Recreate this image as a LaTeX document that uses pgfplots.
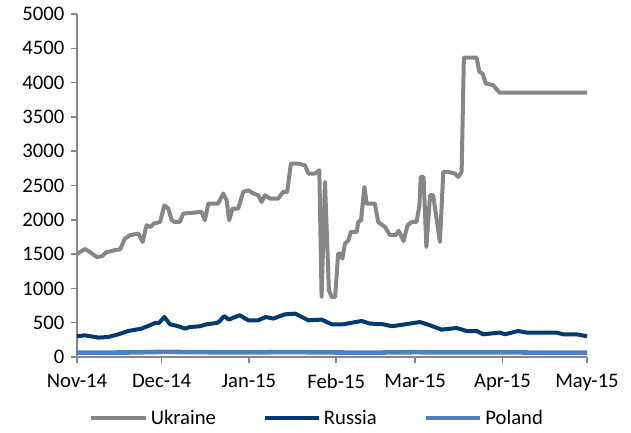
\documentclass[border=0pt]{standalone}
\usepackage{fontspec}
\setmainfont{Carlito}
\usepackage{pgfplots}
\pgfplotsset{compat=1.18}
\definecolor{UkrGray}{RGB}{134,134,134}
\definecolor{RusBlue}{RGB}{0,58,112}
\definecolor{PolBlue}{RGB}{79,129,189}
\definecolor{AxisGray}{RGB}{134,134,134}

\begin{document}
\begin{tikzpicture}
\useasboundingbox (0,0) rectangle (473.25pt,324pt);
\begin{axis}[
    at={(57.75pt,56.25pt)}, anchor=south west,
    width=382.5pt, height=257.25pt, scale only axis,
    xmin=0, xmax=181, ymin=0, ymax=5000,
    axis x line*=bottom, axis y line*=left,
    axis line style={AxisGray, line width=1.1pt},
    every tick/.style={AxisGray, line width=1.1pt},
    tick align=outside, major tick length=4.5pt,
    xtick={0,30,61,92,120,151,181},
    xticklabels={Nov-14,Dec-14,Jan-15,Feb-15,Mar-15,Apr-15,May-15},
    ytick={0,500,...,5000},
    /pgf/number format/assume math mode=true,
    /pgf/number format/1000 sep={},
    tick label style={font=\fontsize{15.5}{18}\selectfont, black},
    xticklabel style={yshift=-4.5pt},
    yticklabel style={xshift=-1.5pt},
    legend columns=3,
    legend style={at={(0.4716,-0.178)}, anchor=center, draw=none, fill=none,
        font=\fontsize{15.5}{18}\selectfont,
        /tikz/every even column/.append style={column sep=33pt}},
    legend image code/.code={\draw[#1] (0pt,0pt) -- (41pt,0pt);},
    clip=false,
]
\addplot[UkrGray, line width=3pt, line join=round] coordinates {
(0,1500) (2.8,1575) (4.6,1530) (7,1458) (8.8,1468) (10.5,1530) (12,1540) (13,1555)
(15.3,1570) (17,1725) (18.8,1775) (21.8,1800) (23.3,1677) (24.7,1920) (26,1895)
(27.3,1945) (29.5,1970) (31,2210) (32.4,2165) (33.6,1995) (34.5,1970) (36.5,1970)
(37.7,2090) (44.2,2115) (45.4,1993) (46.6,2237) (50.1,2237) (51.9,2383) (53.1,2285)
(54,1993) (55.2,2163) (57.2,2163) (59,2406) (60.8,2430) (62.6,2383) (64.3,2358)
(65.5,2260) (66.7,2358) (68.5,2310) (71.4,2310) (73.2,2406) (74.6,2406) (75.9,2820)
(78.5,2820) (80.9,2795) (82.1,2674) (84.5,2674) (86,2722) (86.8,875) (88,2552)
(89.4,972) (90.4,875) (91.6,875) (92.7,1508) (93.3,1508) (94.2,1435) (95.1,1653)
(96.3,1700) (97.2,1823) (99.3,1823) (99.8,1968) (100.8,1993) (102,2479) (102.8,2237)
(105.7,2237) (106.9,1968) (109.3,1895) (111.1,1775) (113,1775) (114.2,1840)
(115.9,1690) (117.3,1920) (118.8,1968) (120.5,1968) (121.5,2200) (122,2625)
(123,2625) (124,1605) (125.3,2358) (126.4,2358) (128.8,1677) (130,2698) (131.8,2698)
(134.1,2674) (135.3,2625) (136.5,2698) (137.3,4365) (141.8,4365) (142.8,4156)
(143.9,4132) (145.1,3986) (147.7,3962) (149.9,3855) (181,3855)
};
\addlegendentry{Ukraine}
\addplot[RusBlue, line width=3pt, line join=round] coordinates {
(0,302) (2.8,316) (7.6,283) (11.1,292) (14.7,331) (18.2,379) (22.9,414) (25.9,462)
(27.7,496) (29.1,496) (31,583) (33,477) (36,448) (38.3,414) (40.1,437) (43.6,448)
(46,477) (49.6,496) (50.7,525) (52.2,598) (53.9,545) (55.5,574) (57.8,608) (60.8,535)
(64.3,535) (67,583) (69.7,560) (73.8,622) (77.4,632) (82.1,535) (86.8,545) (90.4,477)
(94.5,477) (101,525) (104,487) (108.7,477) (111.7,448) (118.2,487) (121.7,510)
(125.3,462) (129.4,399) (134.7,423) (138.3,379) (141.8,379) (144.2,331) (150.1,356)
(151.9,331) (156.6,379) (159.6,356) (170.2,356) (172.6,331) (177.3,331) (181,302)
};
\addlegendentry{Russia}
\addplot[PolBlue, line width=3.4pt, line join=round] coordinates {
(0,64) (20,66) (30,75) (45,70) (60,66) (75,72) (90,66) (105,64) (120,70) (135,66)
(150,68) (165,64) (181,64)
};
\addlegendentry{Poland}
\end{axis}
\end{tikzpicture}
\end{document}
